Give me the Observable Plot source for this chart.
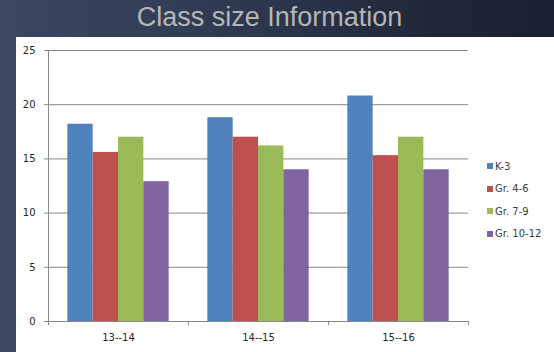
<!DOCTYPE html>
<html>
<head>
<meta charset="utf-8">
<script src="https://cdn.jsdelivr.net/npm/d3@7"></script>
<script src="https://cdn.jsdelivr.net/npm/@observablehq/plot@0.6"></script>
<style>
  html, body { margin: 0; padding: 0; }
  body {
    width: 554px; height: 352px; overflow: hidden; position: relative;
    background: linear-gradient(90deg, #3b4763 0%, #2f3a52 40%, #1f2636 80%, #1b2130 100%);
    font-family: "DejaVu Sans", sans-serif;
  }
  #title {
    position: absolute; left: 0; top: 2px; width: 539px; text-align: center;
    font-family: "Liberation Sans", Arial, sans-serif; font-size: 27px; color: #b4b6ba;
  }
  #panel {
    position: absolute; left: 16px; top: 37px; width: 538px; height: 315px; background: #ffffff;
  }
  #chart { position: absolute; left: 0; top: 0; }
  #legend { position: absolute; left: 471px; top: 118px; font-size: 10px; color: #404040; }
  .item { display: flex; align-items: center; height: 22.5px; }
  .sw { width: 6px; height: 6px; margin-right: 2px; }
</style>
</head>
<body>
<div id="title">Class size Information</div>
<div id="panel">
  <div id="chart"></div>
  <div id="legend"></div>
</div>
<script>
// School years, grade bands and average class sizes
const years = ["13--14", "14--15", "15--16"];
const grades = ["K-3", "Gr. 4-6", "Gr. 7-9", "Gr. 10-12"];
const k3 = [18.2, 18.8, 20.8];
const gr46 = [15.6, 17.0, 15.3];
const gr79 = [17.0, 16.2, 17.0];
const gr1012 = [12.9, 14.0, 14.0];
const yTicks = [0, 5, 10, 15, 20, 25];
const colors = ["#4f81bd", "#c0504d", "#9bbb59", "#8064a2"];

const series = [k3, gr46, gr79, gr1012];
const rows = grades.flatMap((g, gi) => years.map((y, yi) => ({year: y, grade: g, value: series[gi][yi]})));

const width = 460, height = 315;
const marginLeft = 32, marginRight = 8, marginTop = 13, marginBottom = 31;
const gray = "#888888";

// each year band holds the four grade bars side by side, centred in the band
const step = (width - marginLeft - marginRight) / years.length;
const barW = step * 0.181;
const groupOffset = (step - barW * grades.length) / 2;

const barMarks = grades.map((g, gi) =>
  Plot.barY(rows.filter(d => d.grade === g), {
    x: "year", y: "value", fill: colors[gi],
    insetLeft: groupOffset + gi * barW,
    insetRight: step - groupOffset - (gi + 1) * barW
  })
);

// small tick marks on the category boundaries below the x axis
const boundaryTicks = (index, {x, y}) => {
  const bw = x(years[1]) - x(years[0]);
  const edges = [...years.map(v => x(v)), x(years[years.length - 1]) + bw];
  const g = d3.create("svg:g").attr("stroke", gray).attr("stroke-width", 1);
  g.selectAll("line").data(edges).join("line")
    .attr("x1", d => Math.round(d) + 0.5).attr("x2", d => Math.round(d) + 0.5)
    .attr("y1", y(0)).attr("y2", y(0) + 4);
  return g.node();
};

const chart = Plot.plot({
  width, height, marginLeft, marginRight, marginTop, marginBottom,
  style: {background: "transparent", fontFamily: "DejaVu Sans, sans-serif", fontSize: "10px", color: "#262626"},
  x: {type: "band", domain: years, padding: 0, axis: null},
  y: {domain: [0, 25], nice: false, axis: null},
  marks: [
    Plot.gridY(yTicks.filter(v => v > 0), {stroke: gray, strokeOpacity: 1, strokeWidth: 1}),
    ...barMarks,
    Plot.ruleY([0], {stroke: gray}),
    Plot.frame({anchor: "left", stroke: gray}),
    Plot.axisY(yTicks, {tickSize: 4, tickPadding: 9, stroke: gray, label: null, fill: "#262626"}),
    Plot.axisX({tickSize: 0, tickPadding: 12, label: null, fill: "#262626"}),
    boundaryTicks
  ]
});
document.getElementById("chart").append(chart);

const legend = d3.select("#legend");
grades.forEach((g, gi) => {
  const item = legend.append("div").attr("class", "item");
  item.append("div").attr("class", "sw").style("background", colors[gi]);
  item.append("span").text(g);
});
</script>
</body>
</html>
